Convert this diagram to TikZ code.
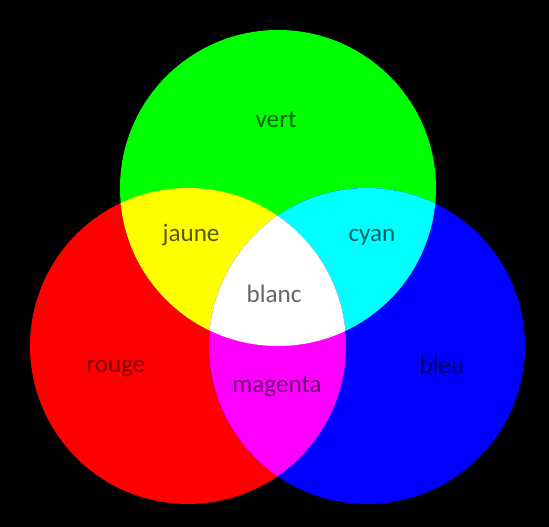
\documentclass[tikz,border=0pt]{standalone}
\usepackage{fontspec}
\setmainfont{Carlito}
\usepackage{tikz}
\definecolor{lred}{RGB}{255,0,0}
\definecolor{lgreen}{RGB}{0,255,0}
\definecolor{lblue}{RGB}{0,0,255}
\definecolor{lyellow}{RGB}{255,255,0}
\definecolor{lcyan}{RGB}{0,255,255}
\definecolor{lmagenta}{RGB}{255,0,255}
\tikzset{
  disc/.style={draw=none},
  lbl/.style={anchor=base,inner sep=0pt,font=\fontsize{14.3}{17}\selectfont},
}

\begin{document}
\begin{tikzpicture}[x=0.02cm,y=0.02cm]
\useasboundingbox (0,0) rectangle (549,527);
\fill[black] (0,0) rectangle (549,527);
% centres of the three lights
\coordinate (cr) at (188,181);
\coordinate (cg) at (278,339);
\coordinate (cb) at (367,181);
\fill[disc,lred] (cr) circle[radius=158];
\fill[disc,lgreen] (cg) circle[radius=158];
\fill[disc,lblue] (cb) circle[radius=158];
% overlaps
\begin{scope}
  \clip (cr) circle[radius=158];
  \fill[disc,lyellow] (cg) circle[radius=158];
\end{scope}
\begin{scope}
  \clip (cg) circle[radius=158];
  \fill[disc,lcyan] (cb) circle[radius=158];
\end{scope}
\begin{scope}
  \clip (cr) circle[radius=158];
  \fill[disc,lmagenta] (cb) circle[radius=158];
\end{scope}
\begin{scope}
  \clip (cr) circle[radius=158];
  \clip (cg) circle[radius=158];
  \fill[disc,white] (cb) circle[radius=158];
\end{scope}
% labels
\node[lbl,text=lgreen!40!black] (vert) at (276,399) {vert};
\node[lbl,text=lyellow!35!black] (jaune) at (191,285) {jaune};
\node[lbl,text=lcyan!38!black] (cyan) at (372,285) {cyan};
\node[lbl,text=black!60] (blanc) at (274,224) {blanc};
\node[lbl,text=lred!50!black] (rouge) at (116,154) {rouge};
\node[lbl,text=lmagenta!45!black] (magenta) at (277,134) {magenta};
\node[lbl,text=lblue!40!black] (bleu) at (442,153) {bleu};
\end{tikzpicture}
\end{document}
